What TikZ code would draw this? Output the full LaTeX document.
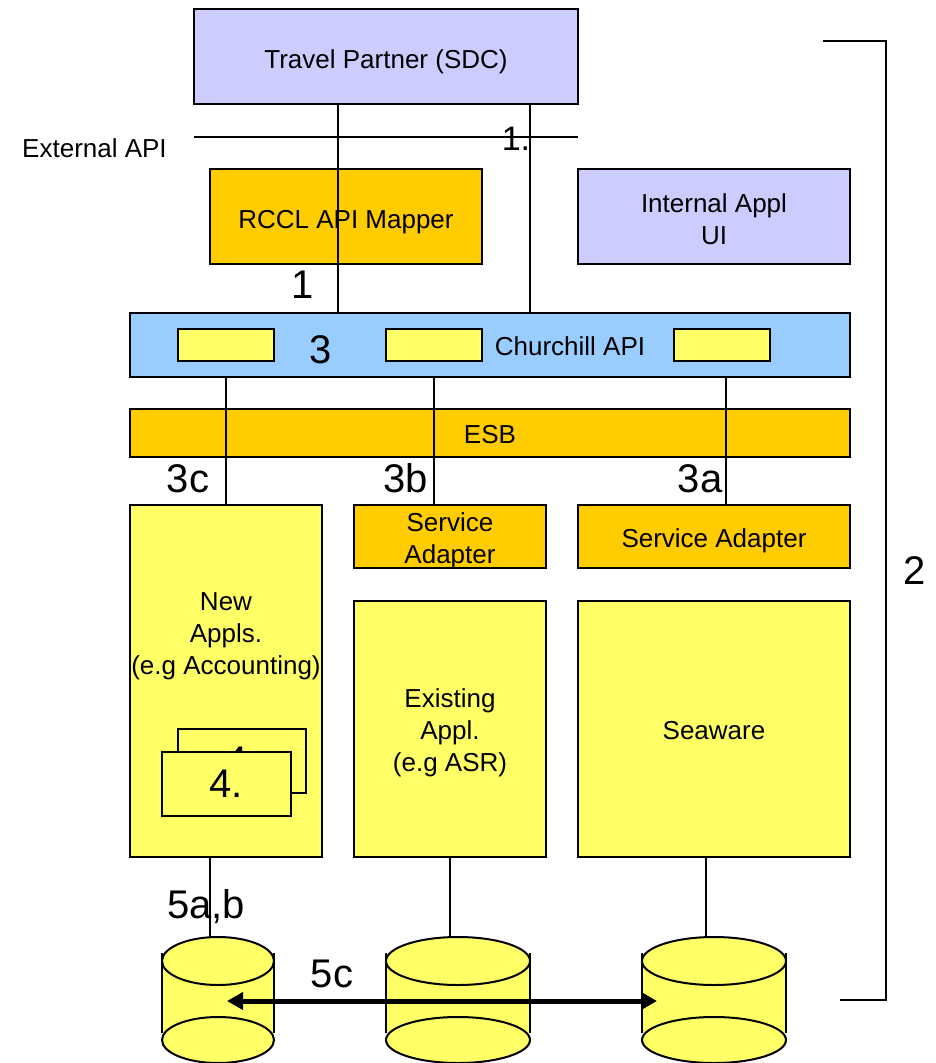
\documentclass[tikz,border=0pt]{standalone}
\usepackage{fontspec}
\setmainfont{Liberation Sans}
\usetikzlibrary{arrows.meta}
\definecolor{lav}{HTML}{CCCCFF}
\definecolor{org}{HTML}{FFCC00}
\definecolor{lblue}{HTML}{99CCFF}
\definecolor{ylw}{HTML}{FFFF66}
\newcommand{\normtxt}{\fontsize{26}{32}\selectfont}
\newcommand{\bigtxt}{\fontsize{40}{48}\selectfont}
\newcommand{\midtxt}{\fontsize{34}{40}\selectfont}
\newcommand{\mkbox}[6]{\node[boxs, fill=#6, minimum width={#4-#2}, minimum height={#5-#3}] (#1) at ({(#2+#4)/2},{(#3+#5)/2}) {};}
\newcommand{\mkcyl}[2]{%
  \fill[ylw] ({#1-#2},953) rectangle ({#1+#2},1033);
  \draw[cyl] ({#1-#2},953) -- ({#1-#2},1033) ({#1+#2},953) -- ({#1+#2},1033);
  \filldraw[cyl, fill=ylw] (#1,1040) ellipse [x radius=#2, y radius=23];
  \filldraw[cyl, fill=ylw] (#1,961) ellipse [x radius=#2, y radius=24];}
\begin{document}
\begin{tikzpicture}[x=1pt,y=-1pt,
  boxs/.style={draw, line width=2pt, inner sep=0pt},
  cyl/.style={draw, line width=2pt},
  conn/.style={line width=1.5pt},
  txt/.style={inner sep=0pt, font=\normtxt, align=center},
  bigl/.style={inner sep=0pt, font=\bigtxt, anchor=base},
  dbarrow/.style={line width=5pt, {Triangle[length=16pt,width=17pt]}-{Triangle[length=16pt,width=17pt]}},
  bracket/.style={line width=2pt}]
\clip (0,0) rectangle (935,1063);
\useasboundingbox (0,0) rectangle (935,1063);
% boxes
\mkbox{tp}{194}{9}{578}{104}{lav}
\mkbox{map}{210}{169}{482}{264}{org}
\mkbox{intl}{578}{169}{850}{264}{lav}
\mkbox{ch}{130}{313}{850}{377}{lblue}
\mkbox{c1}{178}{329}{274}{361}{ylw}
\mkbox{c2}{386}{329}{482}{361}{ylw}
\mkbox{c3}{674}{329}{770}{361}{ylw}
\mkbox{esb}{130}{409}{850}{457}{org}
\mkbox{newapp}{130}{505}{322}{857}{ylw}
\mkbox{sa1}{354}{505}{546}{568}{org}
\mkbox{sa2}{578}{505}{850}{568}{org}
\mkbox{exist}{354}{601}{546}{857}{ylw}
\mkbox{sea}{578}{601}{850}{857}{ylw}
\node[boxs, fill=ylw, minimum width=128, minimum height=64, font=\bigtxt] (f4b) at (242,761) {4.};
\node[boxs, fill=ylw, minimum width=129.5, minimum height=64, font=\bigtxt] (f4f) at (226.25,784) {4.};
% cylinders
\mkcyl{218}{56}
\mkcyl{458}{72}
\mkcyl{714}{72}
% coordinates
\coordinate (xa) at (338,0);
\coordinate (xb) at (530,0);
\coordinate (xc) at (226,0);
\coordinate (xd) at (434,0);
\coordinate (xe) at (726,0);
\coordinate (extL) at (194,137);
\coordinate (extR) at (578,137);
\coordinate (db1t) at (210,937);
\coordinate (db2t) at (450,937);
\coordinate (db3t) at (706,937);
\coordinate (db1m) at (227,1001);
\coordinate (db3m) at (657,1001);
\coordinate (br1) at (823,41);
\coordinate (br2) at (886,41);
\coordinate (br3) at (886,1000);
\coordinate (br4) at (840,1000);
% connectors
\draw[conn] (extL) -- (extR);
\draw[conn] (tp.south -| xa) -- (ch.north -| xa);
\draw[conn] (tp.south -| xb) -- (ch.north -| xb);
\draw[conn] (ch.south -| xc) -- (newapp.north -| xc);
\draw[conn] (ch.south -| xd) -- (sa1.north -| xd);
\draw[conn] (ch.south -| xe) -- (sa2.north -| xe);
\draw[conn] (newapp.south -| db1t) -- (db1t);
\draw[conn] (exist.south -| db2t) -- (db2t);
\draw[conn] (sea.south -| db3t) -- (db3t);
\draw[dbarrow] (db1m) -- (db3m);
\draw[bracket] (br1) -- (br2) -- (br3) -- (br4);
% texts
\node[txt, anchor=base] (t-tp) at (386,68) {Travel Partner (SDC)};
\node[txt, anchor=base] (t-ext) at (94.5,157) {External API};
\node[inner sep=0pt, font=\midtxt, anchor=base] (t-1dot) at (516,150) {1.};
\node[txt, anchor=base] (t-map) at (346,228) {RCCL API Mapper};
\node[txt, anchor=north] (t-intl) at (714,193.4) {Internal Appl\\UI};
\node[bigl] (t-1) at (303,298) {1};
\node[bigl] (t-3) at (321,363) {3};
\node[txt, anchor=base] (t-ch) at (570,355) {Churchill API};
\node[txt, anchor=base] (t-esb) at (490,443) {ESB};
\node[bigl] (t-3c) at (188,492.7) {3c};
\node[bigl] (t-3b) at (406,492.7) {3b};
\node[bigl] (t-3a) at (700,492.7) {3a};
\node[txt, anchor=north] (t-sa1) at (450,512) {Service\\Adapter};
\node[txt, anchor=base] (t-sa2) at (714,547) {Service Adapter};
\node[txt, anchor=north] (t-new) at (226,592.4) {New\\Appls.\\(e.g Accounting)};
\node[txt, anchor=north] (t-exist) at (450,688.4) {Existing\\Appl.\\(e.g ASR)};
\node[txt, anchor=base] (t-sea) at (714,739) {Seaware};
\node[bigl] (t-5ab) at (206,918) {5a,b};
\node[bigl] (t-5c) at (332,987) {5c};
\node[bigl] (t-2) at (915,584) {2};
\end{tikzpicture}
\end{document}
